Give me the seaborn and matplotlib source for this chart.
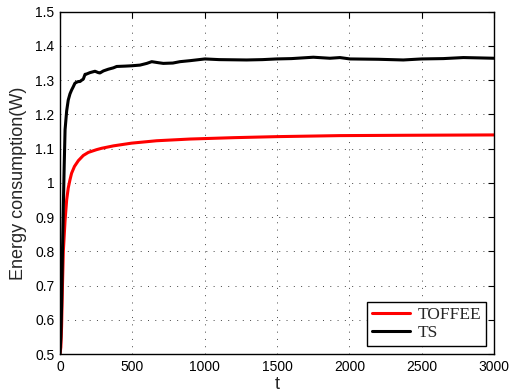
import matplotlib
matplotlib.use("Agg")
import matplotlib.pyplot as plt
import seaborn as sns
import pandas as pd

# Data
ts_t = [0, 6, 11, 17, 23, 29, 35, 46, 57, 69, 80, 92, 103, 115, 127, 138, 150, 161,
        173, 184, 207, 242, 265, 276, 300, 334, 369, 392, 450, 495, 553, 600, 634,
        680, 714, 780, 829, 900, 1002, 1100, 1290, 1400, 1497, 1600, 1751, 1866,
        1935, 2004, 2200, 2373, 2500, 2650, 2788, 2900, 3000]
ts_v = [0.5, 0.55, 0.64, 0.80, 0.93, 1.05, 1.155, 1.21, 1.242, 1.26, 1.271, 1.281,
        1.291, 1.294, 1.296, 1.296, 1.300, 1.303, 1.317, 1.318, 1.322, 1.326, 1.322,
        1.321, 1.327, 1.332, 1.336, 1.340, 1.341, 1.342, 1.344, 1.349, 1.354, 1.351,
        1.349, 1.350, 1.354, 1.357, 1.362, 1.360, 1.359, 1.360, 1.362, 1.363, 1.367,
        1.364, 1.366, 1.362, 1.361, 1.359, 1.362, 1.363, 1.366, 1.365, 1.364]

toffee_t = [0, 6, 11, 17, 23, 35, 46, 57, 69, 80, 100, 127, 161, 196, 253, 288, 369,
            495, 668, 899, 1200, 1497, 1935, 2400, 3000]
toffee_v = [0.5, 0.52, 0.58, 0.70, 0.80, 0.89, 0.95, 0.985, 1.009, 1.028, 1.048,
            1.065, 1.080, 1.089, 1.097, 1.101, 1.108, 1.116, 1.123, 1.128, 1.132,
            1.135, 1.138, 1.139, 1.140]

series_names = ["TOFFEE", "TS"]
x_ticks = [0, 500, 1000, 1500, 2000, 2500, 3000]
y_ticks = [0.5, 0.6, 0.7, 0.8, 0.9, 1.0, 1.1, 1.2, 1.3, 1.4, 1.5]
y_tick_labels = ["0.5", "0.6", "0.7", "0.8", "0.9", "1", "1.1", "1.2", "1.3", "1.4", "1.5"]

df = pd.concat([
    pd.DataFrame({"t": toffee_t, "E": toffee_v, "series": series_names[0]}),
    pd.DataFrame({"t": ts_t, "E": ts_v, "series": series_names[1]}),
])

sns.set_style("white")
plt.rcParams["font.family"] = ["Liberation Sans", "DejaVu Sans"]

fig = plt.figure(figsize=(5.16, 3.92), dpi=100)
ax = fig.add_axes([60 / 516, 1 - 354 / 392, 434 / 516, (354 - 11.7) / 392])

sns.lineplot(data=df, x="t", y="E", hue="series", palette={"TOFFEE": "#ff0000", "TS": "#000000"},
             linewidth=2.2, ax=ax, legend=False, estimator=None, sort=False)

ax.set_xlim(0, 3000)
ax.set_ylim(0.5, 1.5)
ax.set_xticks(x_ticks)
ax.set_xticklabels([str(v) for v in x_ticks])
ax.set_yticks(y_ticks)
ax.set_yticklabels(y_tick_labels)
ax.tick_params(direction="in", length=4, width=0.8, top=True, right=True,
               labelsize=10, colors="black", pad=4)
ax.grid(True, linestyle=(0, (1, 6.5)), color="#444444", linewidth=0.7)
for s in ax.spines.values():
    s.set_visible(True)
    s.set_color("black")
    s.set_linewidth(1.0)
ax.set_xlabel("t", fontsize=13, labelpad=2)
ax.set_ylabel("Energy consumption(W)", fontsize=13, labelpad=6)

from matplotlib.lines import Line2D
handles = [Line2D([], [], color="#ff0000", lw=2.2), Line2D([], [], color="black", lw=2.2)]
leg = ax.legend(handles, series_names, loc="lower right", prop={"family": "Liberation Serif", "size": 12.5},
                frameon=True, fancybox=False, edgecolor="black", framealpha=1,
                borderaxespad=0.45, handlelength=2.2, labelspacing=0.1, borderpad=0.3,
                handletextpad=0.4)
leg.get_frame().set_linewidth(1.0)

fig.savefig("out.png", dpi=100)
